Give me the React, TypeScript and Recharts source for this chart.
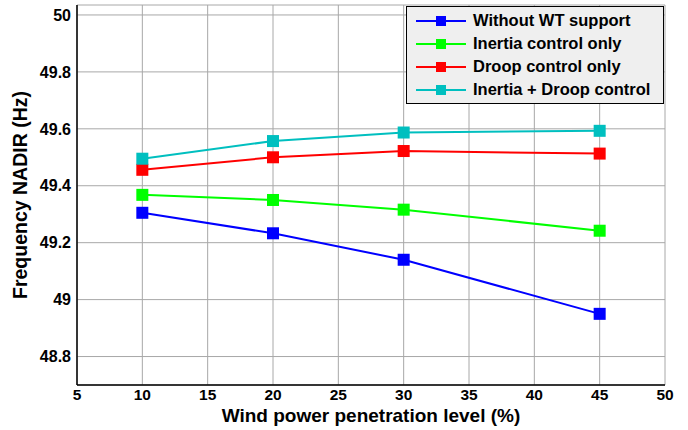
import { CartesianGrid, Label, Line, LineChart, XAxis, YAxis } from 'recharts'

const penetration = [10, 20, 30, 45]
const withoutWT = [49.305, 49.233, 49.14, 48.95]
const inertiaOnly = [49.368, 49.35, 49.316, 49.242]
const droopOnly = [49.456, 49.5, 49.522, 49.513]
const inertiaDroop = [49.495, 49.557, 49.587, 49.593]

const xTicks = [5, 10, 15, 20, 25, 30, 35, 40, 45, 50]
const yTicks = [48.8, 49, 49.2, 49.4, 49.6, 49.8, 50]

const seriesList = [
  { key: 'withoutWT', name: 'Without WT support', color: '#0000ff', values: withoutWT },
  { key: 'inertiaOnly', name: 'Inertia control only', color: '#00ff00', values: inertiaOnly },
  { key: 'droopOnly', name: 'Droop control only', color: '#ff0000', values: droopOnly },
  { key: 'inertiaDroop', name: 'Inertia + Droop control', color: '#00bfbf', values: inertiaDroop },
]

const data = penetration.map((x, i) => {
  const row: Record<string, number> = { x }
  seriesList.forEach((s) => {
    row[s.key] = s.values[i]
  })
  return row
})

const font = '"Liberation Sans", Arial, sans-serif'

function SquareDot(props: { cx?: number; cy?: number; stroke?: string; index?: number }) {
  const { cx, cy, stroke, index } = props
  if (cx == null || cy == null) return null
  return <rect key={index} x={cx - 6} y={cy - 6} width={12} height={12} fill={stroke} />
}

// drawn over the chart like MATLAB's legend box (top right, inside the axes)
function ChartLegend() {
  return (
    <div
      style={{
        position: 'absolute',
        left: 406,
        top: 6,
        background: '#efefef',
        border: '1px solid #000',
        width: 256,
        height: 94,
        paddingTop: 2,
      }}
    >
      {seriesList.map((s) => (
        <div key={s.key} style={{ display: 'flex', alignItems: 'center', height: 23 }}>
          <svg width={66} height={14} style={{ flexShrink: 0 }}>
            <line x1={9} x2={59} y1={7} y2={7} stroke={s.color} strokeWidth={2} />
            <rect x={29} y={2} width={10} height={10} fill={s.color} />
          </svg>
          <span style={{ fontFamily: font, fontWeight: 'bold', fontSize: 16.5, color: '#000' }}>{s.name}</span>
        </div>
      ))}
    </div>
  )
}

export default function App() {
  return (
    <div style={{ position: 'absolute', left: 0, top: 0, width: 688, height: 430, background: '#fff' }}>
      <LineChart width={688} height={430} data={data} margin={{ top: 5, right: 23, left: 12, bottom: 0 }}>
        <CartesianGrid stroke="#a8a8a8" strokeWidth={1} />
        <XAxis
          dataKey="x"
          type="number"
          domain={[5, 50]}
          ticks={xTicks}
          allowDataOverflow
          height={45}
          tickSize={0}
          tickMargin={4}
          axisLine={{ stroke: '#000', strokeWidth: 1.5 }}
          tick={{ fill: '#000', fontSize: 15.5, fontWeight: 'bold', fontFamily: font }}
        >
          <Label
            value="Wind power penetration level (%)"
            position="insideBottom"
            offset={8}
            style={{ fill: '#000', fontSize: 19, fontWeight: 'bold', fontFamily: font }}
          />
        </XAxis>
        <XAxis
          xAxisId="top"
          orientation="top"
          type="number"
          domain={[5, 50]}
          height={0}
          tick={false}
          tickLine={false}
          axisLine={{ stroke: '#000', strokeWidth: 1 }}
        />
        <YAxis
          type="number"
          domain={[48.7, 50.035]}
          ticks={yTicks}
          allowDataOverflow
          width={65}
          tickSize={0}
          tickMargin={6}
          tickFormatter={(v: number) => String(v)}
          axisLine={{ stroke: '#000', strokeWidth: 1.5 }}
          tick={{ fill: '#000', fontSize: 16, fontWeight: 'bold', fontFamily: font }}
        >
          <Label
            value="Frequency NADIR (Hz)"
            angle={-90}
            position="insideLeft"
            offset={8}
            style={{ textAnchor: 'middle', fill: '#000', fontSize: 19.5, fontWeight: 'bold', fontFamily: font }}
          />
        </YAxis>
        <YAxis
          yAxisId="right"
          orientation="right"
          type="number"
          domain={[48.7, 50.035]}
          width={0}
          tick={false}
          tickLine={false}
          axisLine={{ stroke: '#000', strokeWidth: 1 }}
        />
        {seriesList.map((s) => (
          <Line
            key={s.key}
            dataKey={s.key}
            name={s.name}
            stroke={s.color}
            strokeWidth={2}
            dot={<SquareDot />}
            activeDot={false}
            isAnimationActive={false}
          />
        ))}
      </LineChart>
      <ChartLegend />
    </div>
  )
}
